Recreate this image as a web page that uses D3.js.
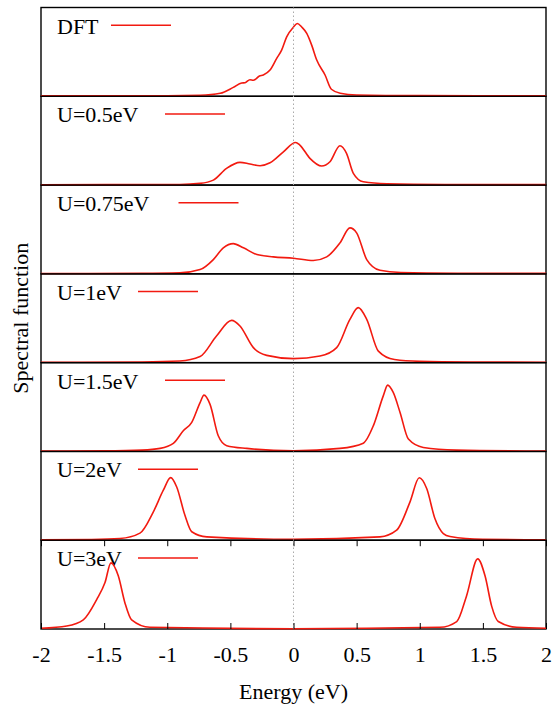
<!DOCTYPE html>
<html>
<head>
<meta charset="utf-8">
<script src="https://cdn.jsdelivr.net/npm/d3@7"></script>
<style>
  body { margin: 0; background: #fff; }
</style>
</head>
<body>
<script>
// x ticks and panel labels
const xTicks = [-2, -1.5, -1, -0.5, 0, 0.5, 1, 1.5, 2];
const panelLabels = ["DFT", "U=0.5eV", "U=0.75eV", "U=1eV", "U=1.5eV", "U=2eV", "U=3eV"];

// spectral function, [energy (eV), A(E) in panel units]
const dft = [[-2, 0.006], [-1, 0.006], [-0.74, 0.011], [-0.58, 0.034], [-0.477, 0.10], [-0.41, 0.15],
  [-0.384, 0.153], [-0.345, 0.187], [-0.318, 0.18], [-0.27, 0.228], [-0.239, 0.24], [-0.186, 0.295],
  [-0.133, 0.427], [-0.094, 0.52], [-0.054, 0.67], [0, 0.78], [0.03, 0.82], [0.065, 0.78],
  [0.105, 0.708], [0.144, 0.576], [0.184, 0.408], [0.25, 0.24], [0.30, 0.079], [0.37, 0.034],
  [0.5, 0.015], [1.0, 0.008], [2, 0.006]];
const u05 = [[-2, 0.004], [-0.9, 0.006], [-0.74, 0.019], [-0.635, 0.056], [-0.53, 0.188], [-0.424, 0.256],
  [-0.345, 0.237], [-0.265, 0.218], [-0.186, 0.251], [-0.08, 0.375], [0.017, 0.48], [0.05, 0.451],
  [0.13, 0.301], [0.223, 0.214], [0.289, 0.263], [0.368, 0.443], [0.42, 0.357], [0.474, 0.132],
  [0.553, 0.037], [0.74, 0.015], [1.2, 0.007], [2, 0.005]];
const u075 = [[-2, 0.004], [-1.2, 0.006], [-0.9, 0.011], [-0.74, 0.048], [-0.635, 0.161], [-0.556, 0.293],
  [-0.477, 0.341], [-0.397, 0.293], [-0.29, 0.217], [-0.16, 0.191], [0, 0.176], [0.157, 0.15],
  [0.263, 0.191], [0.368, 0.349], [0.447, 0.518], [0.5, 0.462], [0.58, 0.161], [0.685, 0.04],
  [0.85, 0.015], [1.3, 0.007], [2, 0.005]];
const u1 = [[-2, 0.004], [-1.2, 0.008], [-0.9, 0.018], [-0.74, 0.068], [-0.61, 0.30], [-0.49, 0.476],
  [-0.424, 0.412], [-0.318, 0.169], [-0.212, 0.082], [0, 0.045], [0.21, 0.074], [0.342, 0.169],
  [0.447, 0.488], [0.513, 0.62], [0.58, 0.488], [0.672, 0.13], [0.8, 0.035], [1.0, 0.014],
  [1.4, 0.007], [2, 0.005]];
const u15 = [[-2, 0.003], [-1.5, 0.006], [-1.2, 0.015], [-1.057, 0.034], [-0.952, 0.09], [-0.873, 0.232],
  [-0.806, 0.327], [-0.74, 0.55], [-0.709, 0.634], [-0.661, 0.53], [-0.596, 0.176], [-0.529, 0.065],
  [-0.37, 0.034], [0, 0.007], [0.368, 0.034], [0.553, 0.093], [0.632, 0.288], [0.711, 0.626],
  [0.746, 0.747], [0.79, 0.664], [0.844, 0.439], [0.91, 0.139], [1.028, 0.045], [1.29, 0.015],
  [2, 0.004]];
const u2 = [[-2, 0.004], [-1.6, 0.008], [-1.374, 0.019], [-1.216, 0.08], [-1.11, 0.32], [-1.031, 0.563],
  [-0.973, 0.705], [-0.925, 0.60], [-0.86, 0.28], [-0.806, 0.095], [-0.687, 0.038], [0, 0.011],
  [0.685, 0.038], [0.817, 0.113], [0.923, 0.432], [0.996, 0.703], [1.055, 0.582], [1.12, 0.244],
  [1.187, 0.075], [1.24, 0.042], [1.5, 0.01], [2, 0.005]];
const u3 = [[-2, 0.008], [-1.796, 0.034], [-1.665, 0.103], [-1.559, 0.332], [-1.493, 0.523], [-1.446, 0.745],
  [-1.388, 0.599], [-1.335, 0.294], [-1.282, 0.103], [-1.137, 0.019], [0, 0.003], [1.16, 0.019],
  [1.293, 0.084], [1.37, 0.37], [1.459, 0.79], [1.517, 0.599], [1.57, 0.255], [1.622, 0.084],
  [1.768, 0.019], [2, 0.008]];

const series = [dft, u05, u075, u1, u15, u2, u3];

const width = 554, height = 704;
const margin = {top: 7.5, right: 8, bottom: 75, left: 41};
const plotBottom = height - margin.bottom;
const panelH = (plotBottom - margin.top) / series.length;
const font = "'Liberation Serif', 'Times New Roman', serif";
const red = "#f21a10";

const svg = d3.select("body").append("svg")
    .attr("width", width)
    .attr("height", height)
    .style("font-family", font);

const x = d3.scaleLinear()
    .domain([-2, 2])
    .range([margin.left, width - margin.right]);

series.forEach((data, i) => {
    const top = margin.top + i * panelH;
    const y = d3.scaleLinear()
        .domain([0, 1])
        .range([top + panelH, top]);

    const g = svg.append("g");

    // panel frame
    g.append("rect")
        .attr("x", x(-2))
        .attr("y", top)
        .attr("width", x(2) - x(-2))
        .attr("height", panelH)
        .attr("fill", "none")
        .attr("stroke", "#000")
        .attr("stroke-width", 1.4);

    // key: label + short line, gnuplot-style spacing
    const label = panelLabels[i];
    g.append("text")
        .attr("x", 57)
        .attr("y", top + 26)
        .attr("font-size", 22)
        .text(label);
    const lx = 57 + (label.length + 1) * 13.5;
    g.append("line")
        .attr("x1", lx).attr("x2", lx + 60)
        .attr("y1", top + 17.7).attr("y2", top + 17.7)
        .attr("stroke", red)
        .attr("stroke-width", 1.5);

    // curve
    const line = d3.line()
        .curve(d3.curveMonotoneX)
        .x(d => x(d[0]))
        .y(d => y(d[1]));

    g.append("path")
        .datum(data)
        .attr("fill", "none")
        .attr("stroke", red)
        .attr("stroke-width", 1.6)
        .attr("stroke-linejoin", "round")
        .attr("d", line);
});

// dotted line at the Fermi level
svg.append("line")
    .attr("x1", x(0)).attr("x2", x(0))
    .attr("y1", margin.top).attr("y2", plotBottom)
    .attr("stroke", "#aaa")
    .attr("stroke-width", 1)
    .attr("stroke-dasharray", "1.5,2.5");

// bottom axis with labels (ticks point inward)
const xAxis = svg.append("g")
    .attr("transform", `translate(0,${plotBottom})`)
    .call(d3.axisBottom(x).tickValues(xTicks).tickSize(-6).tickFormat(d => d));
xAxis.select(".domain").remove();
xAxis.selectAll("line").attr("stroke", "#000").attr("stroke-width", 1);
xAxis.selectAll("text")
    .attr("y", 33)
    .attr("dy", 0)
    .attr("fill", "#000")
    .attr("font-size", 22)
    .attr("font-family", font);

// mirror ticks at the top of the last panel
const topAxis = svg.append("g")
    .attr("transform", `translate(0,${plotBottom - panelH})`)
    .call(d3.axisTop(x).tickValues(xTicks).tickSize(-6).tickFormat(""));
topAxis.select(".domain").remove();
topAxis.selectAll("line").attr("stroke", "#000").attr("stroke-width", 1);

// axis titles
svg.append("text")
    .attr("x", x(0))
    .attr("y", 699)
    .attr("text-anchor", "middle")
    .attr("font-size", 22)
    .text("Energy (eV)");

svg.append("text")
    .attr("transform", `translate(27.5,${(margin.top + plotBottom) / 2}) rotate(-90)`)
    .attr("text-anchor", "middle")
    .attr("font-size", 22)
    .text("Spectral function");
</script>
</body>
</html>
